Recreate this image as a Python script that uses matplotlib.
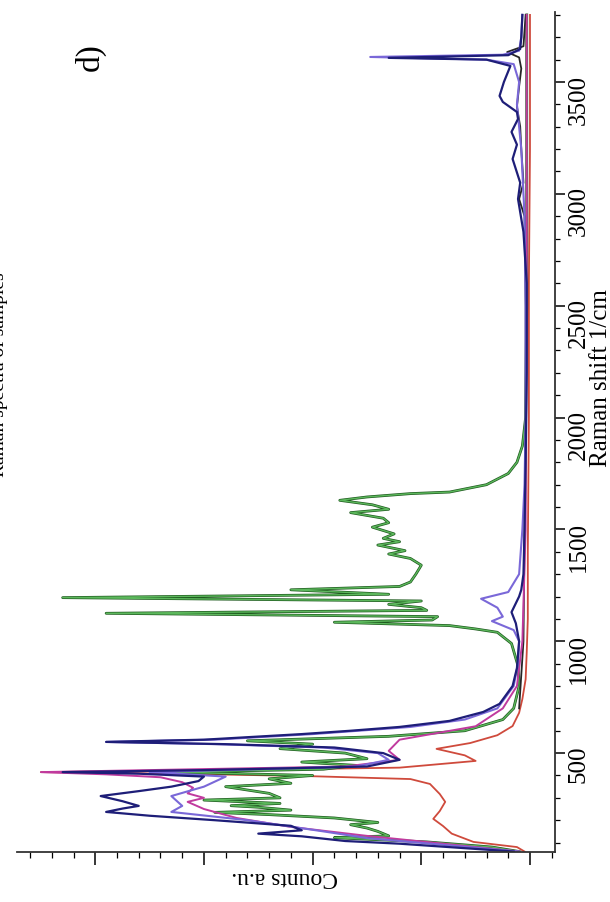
"""Raman spectra panel d), drawn turned a quarter turn: shift runs up the right edge, counts grow to the left."""

import matplotlib

matplotlib.use("Agg")

import matplotlib.pyplot as plt
from matplotlib.ticker import MultipleLocator, NullFormatter

plt.rcParams["font.family"] = ["Liberation Serif", "DejaVu Serif"]

# Raman shift (1/cm) and counts (a.u.) for each sample
red_shift = [60, 80, 103, 140, 174, 206, 241, 282, 317, 362, 384, 398, 408, 415, 422, 435,
             465, 490, 519, 545, 580, 621, 680, 742, 830, 950, 1100, 1400, 2000, 2600, 3200,
             3600, 3800]
red_counts = [0.05, 0.12, 0.52, 0.72, 0.80, 0.89, 0.83, 0.78, 0.83, 0.92, 1.10, 2.1, 3.3, 4.5,
              3.0, 1.2, 0.50, 0.60, 0.86, 0.55, 0.30, 0.16, 0.10, 0.07, 0.04, 0.03, 0.02, 0.02,
              0.01, 0.01, 0.0, 0.0, 0.0]

green_shift = [60, 80, 103, 115, 122, 130, 150, 165, 180, 190, 210, 225, 235, 245, 258, 265,
               275, 290, 300, 320, 350, 365, 385, 400, 415, 428, 445, 460, 475, 500, 520, 540,
               555, 575, 600, 650, 700, 800, 890, 990, 1040, 1055, 1070, 1085, 1095, 1110,
               1125, 1138, 1150, 1165, 1180, 1195, 1210, 1230, 1245, 1265, 1300, 1340, 1370,
               1390, 1405, 1430, 1445, 1460, 1480, 1510, 1530, 1550, 1575, 1590, 1610, 1630,
               1645, 1660, 1667, 1700, 1750, 1800, 1873, 2000, 2500, 3000, 3500, 3800]
green_counts = [0.1, 0.35, 0.95, 1.5, 1.8, 1.3, 1.4, 1.5, 1.65, 1.4, 1.8, 2.4, 2.9, 2.2, 2.5,
                2.75, 2.3, 3.0, 2.3, 2.4, 2.8, 2.2, 2.4, 2.0, 3.3, 1.9, 1.6, 2.1, 1.5, 1.7, 2.3,
                2.0, 2.6, 1.3, 0.6, 0.25, 0.15, 0.10, 0.11, 0.17, 0.30, 0.50, 0.74, 1.8, 0.9,
                0.85, 3.9, 0.95, 1.0, 1.3, 1.0, 4.3, 1.3, 2.2, 1.2, 1.1, 1.05, 1.0, 1.1, 1.3,
                1.15, 1.4, 1.2, 1.35, 1.25, 1.45, 1.3, 1.35, 1.65, 1.3, 1.45, 1.75, 1.5, 1.1,
                0.74, 0.40, 0.20, 0.12, 0.07, 0.04, 0.03, 0.03, 0.03, 0.03]

black_shift = [700, 1000, 1500, 2000, 2500, 2900, 2977, 3050, 3200, 3300, 3390, 3480, 3560,
               3610, 3634, 3660, 3800]
black_counts = [0.10, 0.06, 0.05, 0.04, 0.04, 0.05, 0.10, 0.06, 0.08, 0.09, 0.12, 0.10, 0.08,
                0.10, 0.21, 0.06, 0.04]

magenta_shift = [60, 90, 130, 170, 210, 250, 282, 300, 320, 345, 370, 392, 405, 415, 425, 440,
                 470, 510, 560, 620, 700, 800, 1000, 1500, 2500, 3500, 3800]
magenta_counts = [0.1, 0.7, 1.5, 2.2, 2.7, 3.0, 3.15, 3.0, 3.15, 3.1, 3.2, 3.4, 3.9, 4.5, 3.4,
                  1.7, 1.2, 1.3, 1.2, 0.5, 0.25, 0.12, 0.07, 0.04, 0.03, 0.03, 0.03]

violet_shift = [60, 90, 120, 150, 200, 237, 264, 308, 350, 395, 415, 440, 470, 500, 525, 540,
                550, 560, 585, 617, 650, 700, 800, 900, 1000, 1050, 1090, 1110, 1150, 1190,
                1220, 1300, 1500, 1700, 2000, 2500, 2900, 3200, 3400, 3500, 3580, 3600, 3612,
                3622, 3640, 3700, 3800]
violet_counts = [0.1, 0.8, 1.5, 1.9, 2.6, 3.3, 3.2, 3.3, 3.0, 2.8, 3.5, 1.6, 1.3, 1.4, 1.9, 2.9,
                 3.9, 2.9, 2.0, 1.1, 0.6, 0.3, 0.15, 0.11, 0.10, 0.15, 0.35, 0.25, 0.30, 0.45,
                 0.20, 0.10, 0.07, 0.05, 0.04, 0.04, 0.05, 0.08, 0.12, 0.10, 0.15, 0.40, 1.47,
                 0.25, 0.10, 0.08, 0.07]

navy_shift = [60, 75, 95, 107, 128, 140, 155, 175, 200, 220, 237, 252, 264, 285, 308, 330, 350,
              375, 395, 408, 415, 424, 440, 470, 500, 525, 540, 550, 560, 585, 600, 617, 644,
              684, 720, 800, 880, 1000, 1080, 1130, 1180, 1200, 1230, 1300, 1500, 1800, 2200,
              2600, 2830, 2977, 3050, 3156, 3220, 3277, 3335, 3366, 3411, 3438, 3500, 3572,
              3600, 3608, 3620, 3648, 3700, 3800]
navy_counts = [0.15, 0.6, 1.2, 1.7, 2.1, 2.5, 2.1, 2.2, 2.9, 3.5, 3.9, 3.75, 3.6, 3.75, 3.95,
               3.6, 3.3, 3.05, 3.0, 3.6, 4.3, 3.0, 1.5, 1.2, 1.35, 1.8, 2.8, 3.9, 3.0, 2.1, 1.65,
               1.2, 0.74, 0.43, 0.28, 0.16, 0.12, 0.10, 0.13, 0.17, 0.12, 0.10, 0.08, 0.06,
               0.05, 0.04, 0.03, 0.03, 0.06, 0.11, 0.09, 0.16, 0.12, 0.17, 0.11, 0.12, 0.25,
               0.28, 0.24, 0.18, 0.40, 1.30, 0.20, 0.09, 0.08, 0.07]

shift_ticks = [500, 1000, 1500, 2000, 2500, 3000, 3500]

fig = plt.figure(figsize=(6.10, 9.03), dpi=100)
ax = fig.add_axes([0.0279, 0.0554, 0.8819, 0.9302])

ax.plot(red_counts, red_shift, color="#cf4a3c", lw=1.3)
# green trace gets a dark underlay so its edges read like the print
ax.plot(green_counts, green_shift, color="#1f5a1f", lw=2.0)
ax.plot(green_counts, green_shift, color="#5cb85c", lw=1.0)
ax.plot(black_counts, black_shift, color="#262626", lw=1.3)
ax.plot(magenta_counts, magenta_shift, color="#c03a9e", lw=1.4)
ax.plot(violet_counts, violet_shift, color="#7a68d8", lw=1.5)
ax.plot(navy_counts, navy_shift, color="#1e1e78", lw=1.6)

ax.set_xlim(4.72, -0.23)
ax.set_ylim(58, 3813)

for side in ("top", "left"):
    ax.spines[side].set_visible(False)
for side in ("bottom", "right"):
    ax.spines[side].set_linewidth(1.3)
    ax.spines[side].set_color("#333333")

ax.yaxis.tick_right()
ax.set_yticks(shift_ticks)
ax.yaxis.set_minor_locator(MultipleLocator(100))
ax.tick_params(axis="y", which="major", direction="out", length=7, width=1.1,
               labelsize=18, labelrotation=90, pad=2)
ax.tick_params(axis="y", which="minor", direction="out", length=3.5, width=0.9)

ax.xaxis.set_major_locator(MultipleLocator(1))
ax.xaxis.set_minor_locator(MultipleLocator(0.2))
ax.xaxis.set_major_formatter(NullFormatter())
ax.tick_params(axis="x", which="major", direction="out", length=9, width=1.1)
ax.tick_params(axis="x", which="minor", direction="out", length=4.5, width=0.9)

fig.text(0.985, 0.581, "Raman shift 1/cm", rotation=90, ha="center", va="center",
         fontsize=18)
fig.text(0.467, 0.028, "Counts a.u.", rotation=180, ha="center", va="center", fontsize=17)
fig.text(0.148, 0.937, "d)", rotation=90, ha="center", va="center", fontsize=24)
fig.text(0.0125, 0.585, "Raman spectra of samples", rotation=90, ha="right", va="center",
         fontsize=14)

fig.savefig("out.png", dpi=100)
plt.close(fig)
